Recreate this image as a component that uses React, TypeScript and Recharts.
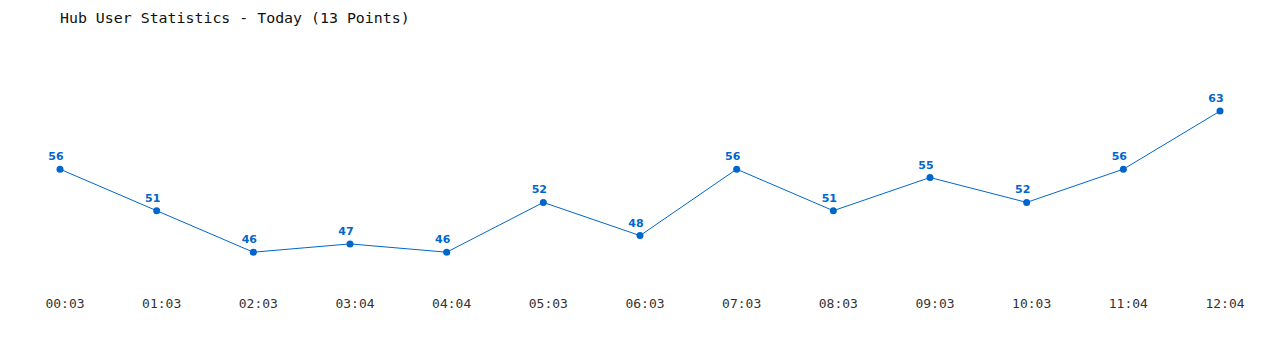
import { LineChart, Line, XAxis, YAxis, LabelList } from 'recharts';

const times = ['00:03', '01:03', '02:03', '03:04', '04:04', '05:03', '06:03', '07:03', '08:03', '09:03', '10:03', '11:04', '12:04'];
const users = [56, 51, 46, 47, 46, 52, 48, 56, 51, 55, 52, 56, 63];

const data = times.map((t, i) => ({ time: t, users: users[i] }));

const BLUE = '#0066cc';

function Tick(props: any) {
  const { x, payload } = props;
  return (
    <text
      x={x + 5}
      y={308}
      textAnchor="middle"
      fill="#333"
      fontSize={13}
      fontFamily="'DejaVu Sans Mono', monospace"
    >
      {payload.value}
    </text>
  );
}

function PointLabel(props: any) {
  const { x, y, value } = props;
  return (
    <text
      x={x - 4}
      y={y - 9}
      textAnchor="middle"
      fill={BLUE}
      fontSize={11}
      fontWeight="bold"
      fontFamily="'DejaVu Sans', sans-serif"
    >
      {value}
    </text>
  );
}

export default function App() {
  return (
    <div style={{ position: 'absolute', left: 0, top: 0, width: 1280, height: 350, background: '#fff' }}>
      <div
        style={{
          position: 'absolute',
          left: 60,
          top: 9,
          fontFamily: "'DejaVu Sans Mono', monospace",
          fontSize: 14.9,
          color: '#111',
          whiteSpace: 'pre',
        }}
      >
        Hub User Statistics - Today (13 Points)
      </div>
      <LineChart width={1280} height={350} data={data} margin={{ top: 53, right: 60, bottom: 18, left: 60 }}>
        <XAxis dataKey="time" axisLine={false} tickLine={false} height={30} interval={0} tick={<Tick />} />
        <YAxis hide domain={[40, 70]} />
        <Line
          type="linear"
          dataKey="users"
          stroke={BLUE}
          strokeWidth={1}
          dot={{ r: 3.5, fill: BLUE, stroke: BLUE, strokeWidth: 0 }}
          isAnimationActive={false}
        >
          <LabelList dataKey="users" content={<PointLabel />} />
        </Line>
      </LineChart>
    </div>
  );
}
